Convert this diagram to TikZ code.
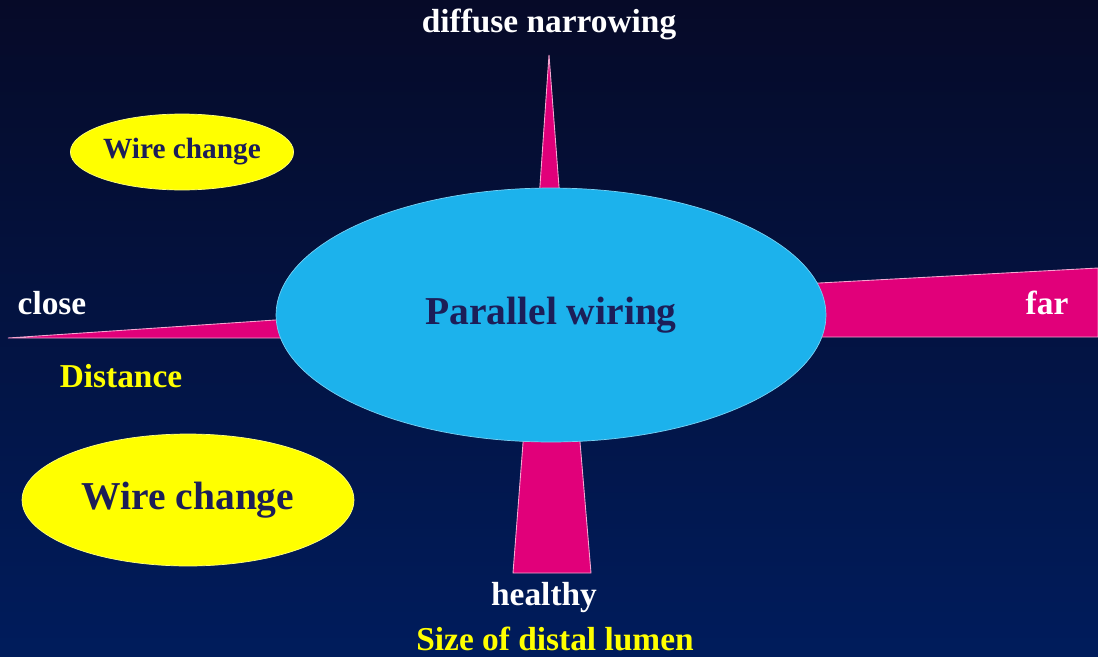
\documentclass[tikz,border=0pt]{standalone}
\usepackage{fontspec}
\setmainfont{Liberation Serif}
\usepackage{tikz}
\usetikzlibrary{shapes,positioning}
\definecolor{slidetop}{RGB}{6,10,40}
\definecolor{slidebot}{RGB}{0,28,92}
\definecolor{lumencyan}{RGB}{28,178,236}
\definecolor{wedgepink}{RGB}{225,0,122}
\definecolor{wirenavy}{RGB}{28,30,88}
\definecolor{labyellow}{RGB}{255,255,0}
\tikzstyle{wedge} = [fill=wedgepink, draw=wedgepink!35!white, line width=0.5pt]
\tikzstyle{axislabel} = [font=\fontsize{19}{22}\selectfont\bfseries, text=white, inner sep=0pt]
\tikzstyle{axisname} = [font=\fontsize{19}{22}\selectfont\bfseries, text=labyellow, inner sep=0pt]
\tikzstyle{bubble} = [ellipse, fill=labyellow, draw=labyellow!50!white, inner sep=0pt, text=wirenavy]

\begin{document}
\begin{tikzpicture}[x=0.02cm, y=-0.02cm]
% Slide background
\useasboundingbox (0,0) rectangle (1098,656);
\shade[top color=slidetop, bottom color=slidebot] (0,0) rectangle (1098,656);

% Pink wedges (drawn first, the ellipse covers their ends)
\draw[wedge] (549,55) -- (560,200) -- (539,200) -- cycle;
\draw[wedge] (524,430) -- (579,430) -- (591,573) -- (513,573) -- cycle;
\draw[wedge] (8,338) -- (290,319) -- (290,338) -- cycle;
\draw[wedge] (810,283.5) -- (1098,268) -- (1098,337) -- (810,337) -- cycle;

% Centre ellipse
\node[ellipse, fill=lumencyan, draw=lumencyan!60!white, inner sep=0pt,
      minimum width=11cm, minimum height=5.08cm, text=wirenavy,
      font=\fontsize{22.5}{26}\selectfont\bfseries] (wiring) at (551,315) {Parallel wiring};

% Wire change bubbles
\node[bubble, minimum width=4.16cm, minimum height=1.52cm,
      font=\fontsize{16.7}{20}\selectfont\bfseries] (wiresmall) at (182,152) {Wire change};
\node[bubble, minimum width=6.64cm, minimum height=2.64cm,
      font=\fontsize{22.5}{26}\selectfont\bfseries] (wirebig) at (188,500) {Wire change};

% Axis ends
\node[axislabel] (diffuse) at (549,24) {diffuse narrowing};
\node[axislabel] (close) at (52,303) {close};
\node[axislabel] (far) at (1047,303) {far};
\node[axislabel] (healthy) at (544,598) {healthy};

% Axis names
\node[axisname] (distance) at (121,376) {Distance};
\node[axisname] (lumen) at (555,639) {Size of distal lumen};
\end{tikzpicture}
\end{document}
